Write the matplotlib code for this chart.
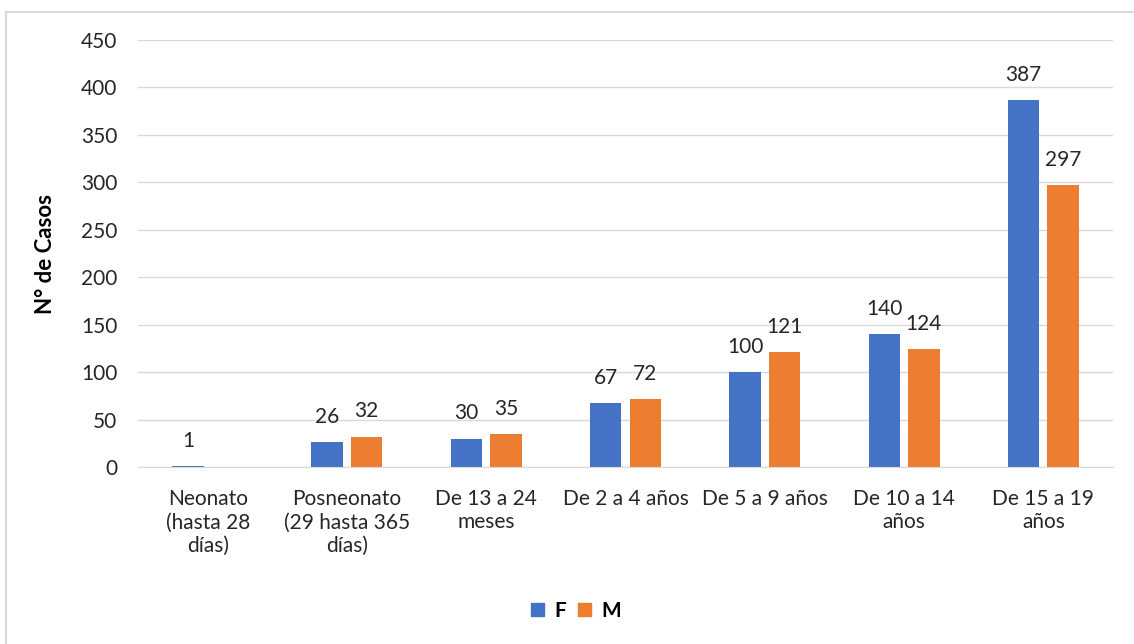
import matplotlib.pyplot as plt
from matplotlib.lines import Line2D
from matplotlib.patches import Patch
import numpy as np

categories = ["Neonato\n(hasta 28\ndías)", "Posneonato\n(29 hasta 365\ndías)", "De 13 a 24\nmeses",
              "De 2 a 4 años", "De 5 a 9 años", "De 10 a 14\naños", "De 15 a 19\naños"]
f_values = [1, 26, 30, 67, 100, 140, 387]
m_values = [None, 32, 35, 72, 121, 124, 297]
y_ticks = [0, 50, 100, 150, 200, 250, 300, 350, 400, 450]

blue = "#4472C4"
orange = "#ED7D31"
grid = "#D9D9D9"
txt = "#262626"
fs = 15

plt.rcParams['font.family'] = ['Lato', 'DejaVu Sans']

fig = plt.figure(figsize=(11.34, 6.44), dpi=100)
ax = fig.add_axes([0.1217, 0.2748, 0.8598, 0.6631])

x = np.arange(len(categories))
w = 0.226
off = 0.142

for i in range(len(categories)):
    fv = f_values[i]
    mv = m_values[i]
    if fv is not None:
        ax.bar(x[i] - off, fv, w, color=blue)
        ax.text(x[i] - off, fv + 16, str(fv), ha='center', va='bottom', fontsize=fs, color=txt)
    if mv is not None:
        ax.bar(x[i] + off, mv, w, color=orange)
        ax.text(x[i] + off, mv + 16, str(mv), ha='center', va='bottom', fontsize=fs, color=txt)

ax.set_xlim(-0.5, len(categories) - 0.5)
ax.set_ylim(0, 450)
ax.set_yticks(y_ticks)
ax.set_xticks(x)
ax.set_xticklabels(categories, fontsize=fs, color=txt, linespacing=1.2)
ax.tick_params(axis='y', length=0, pad=15, labelsize=fs, labelcolor=txt)
ax.tick_params(axis='x', length=0, pad=16)
ax.grid(axis='y', color=grid, linewidth=1)
ax.set_axisbelow(True)
for s in ['top', 'right', 'left']:
    ax.spines[s].set_visible(False)
ax.spines['bottom'].set_color(grid)

ax.set_ylabel("N° de Casos", fontsize=16, fontweight='bold', labelpad=18)

handles = [Patch(color=blue, label='F'), Patch(color=orange, label='M')]
fig.legend(handles=handles, loc='center', bbox_to_anchor=(0.508, 0.052), ncol=2, frameon=False,
           handlelength=0.6, handleheight=0.6, handletextpad=0.5, columnspacing=0.6,
           prop={'weight': 'bold', 'size': fs})

fig.add_artist(Line2D([6 / 1134, 6 / 1134], [0, 1 - 12 / 644], transform=fig.transFigure, color=grid, linewidth=1.5))
fig.add_artist(Line2D([6 / 1134, 1], [1 - 12 / 644, 1 - 12 / 644], transform=fig.transFigure, color=grid, linewidth=1.5))

fig.savefig("out.png", dpi=100)
